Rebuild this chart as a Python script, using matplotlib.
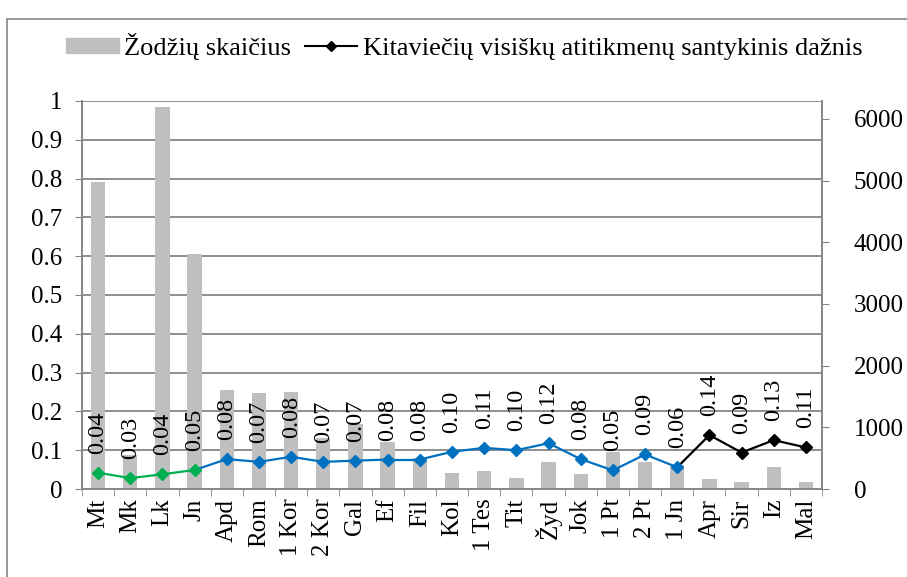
import numpy as np
import matplotlib
matplotlib.use('Agg')
import matplotlib.pyplot as plt
from matplotlib.patches import Patch, Rectangle
from matplotlib.lines import Line2D

plt.rcParams['font.family'] = ['Liberation Serif', 'DejaVu Serif']

# data
books = ['Mt', 'Mk', 'Lk', 'Jn', 'Apd', 'Rom', '1 Kor', '2 Kor', 'Gal', 'Ef', 'Fil', 'Kol',
         '1 Tes', 'Tit', 'Žyd', 'Jok', '1 Pt', '2 Pt', '1 Jn', 'Apr', 'Sir', 'Iz', 'Mal']
words = [4970, 550, 6200, 3810, 1600, 1550, 1570, 820, 1050, 770, 500, 265,
         300, 175, 445, 245, 600, 445, 390, 155, 120, 350, 115]
freq = [0.042, 0.028, 0.038, 0.049, 0.077, 0.070, 0.083, 0.070, 0.073, 0.076, 0.076, 0.096,
        0.106, 0.100, 0.118, 0.077, 0.048, 0.089, 0.056, 0.139, 0.094, 0.126, 0.107]
group = ['g'] * 4 + ['b'] * 15 + ['k'] * 4

bar_label = 'Žodžių skaičius'
line_label = 'Kitaviečių visiškų atitikmenų santykinis dažnis'

col = {'g': '#00B050', 'b': '#0070C0', 'k': 'black'}
gray = '#868686'
fs = 18

fig = plt.figure(figsize=(9.07, 5.77), dpi=100)
ax = fig.add_axes([0.0904, 0.1525, 0.8159, 0.6725])
ax2 = ax.twinx()
ax.set_zorder(2)
ax.patch.set_visible(False)

x = np.arange(len(books))
R_MAX = 6290

# bars on secondary axis, gridlines under them
ax2.bar(x, words, width=0.445, color='#BFBFBF', zorder=2)
ax2.set_ylim(0, R_MAX)
ax2.set_yticks(np.arange(0, 6001, 1000))
ax2.set_yticks(np.linspace(0, R_MAX, 11), minor=True)
ax2.set_axisbelow(True)
ax2.grid(which='minor', axis='y', color=gray, lw=1.3)
ax2.tick_params(axis='y', which='minor', right=False)
ax2.tick_params(axis='y', which='major', direction='out', length=5, color=gray,
                labelsize=18, pad=18)

# line on primary axis, each segment coloured by its end point
for i in range(1, len(x)):
    ax.plot(x[i-1:i+1], freq[i-1:i+1], color=col[group[i]], lw=1.6, zorder=3)
for i in range(len(x)):
    ax.plot(x[i], freq[i], marker='D', ms=6.5, color=col[group[i]], zorder=4)
    ax.annotate(f'{freq[i]:.2f}', (x[i], freq[i]), xytext=(0, 19), textcoords='offset pixels',
                rotation=90, ha='center', va='bottom', fontsize=17.5)

ax.set_ylim(0, 1)
ax.set_xlim(-0.5, len(x) - 0.5)
ax.set_yticks(np.arange(0, 1.01, 0.1))
ax.set_yticklabels(['%g' % round(v, 1) for v in np.arange(0, 1.01, 0.1)])
ax.tick_params(axis='y', direction='out', length=5, color=gray, labelsize=18, pad=9)
ax.set_xticks(x)
ax.set_xticklabels(books, rotation=90, fontsize=fs, va='top', ha='center')
ax.set_xticks(np.arange(-0.5, len(x), 1), minor=True)
ax.tick_params(axis='x', which='major', length=0, pad=7)
ax.tick_params(axis='x', which='minor', length=5, color=gray, direction='out')
ax2.set_xlim(-0.5, len(x) - 0.5)

for a in (ax, ax2):
    for s in a.spines.values():
        s.set_color(gray)
        s.set_linewidth(1.2)
    a.spines['top'].set_visible(False)

handles = [Patch(color='#BFBFBF'),
           Line2D([], [], color='black', lw=1.5, marker='D', ms=5)]
fig.legend(handles, [bar_label, line_label], loc='center', bbox_to_anchor=(0.512, 0.92),
           ncol=2, frameon=False, fontsize=19, handlelength=2.0, handleheight=0.5,
           handletextpad=0.2, columnspacing=0.5)

fig.patches.append(Rectangle((0.0077, -0.05), 1.0, 1.017, transform=fig.transFigure,
                             fill=False, edgecolor=gray, lw=1.2))

fig.savefig('out.png', dpi=100)
